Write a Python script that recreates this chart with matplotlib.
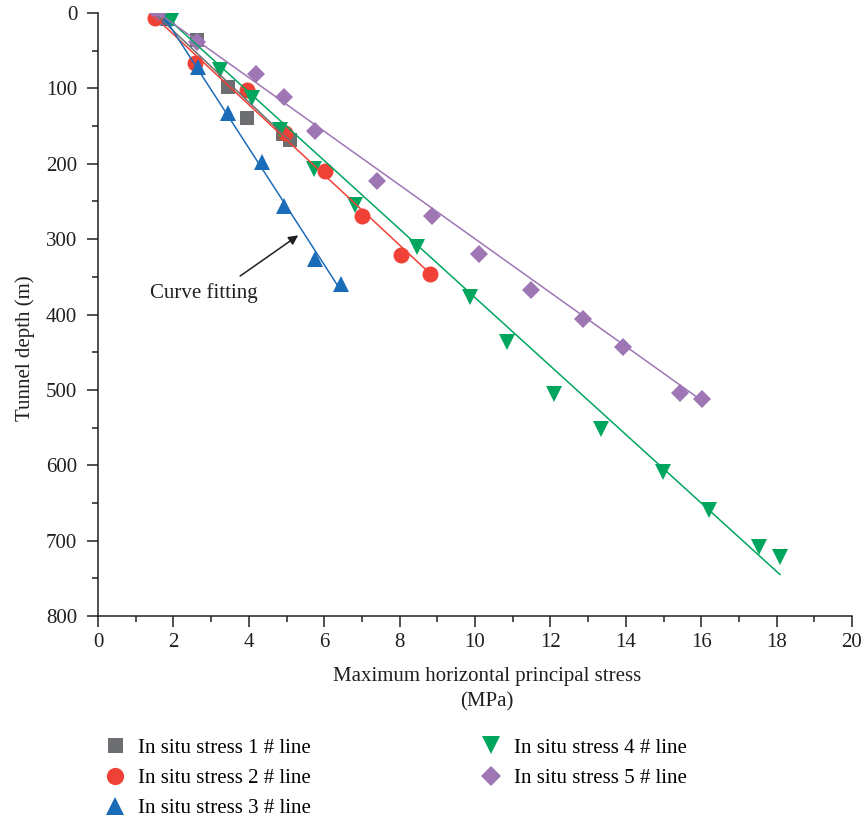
import matplotlib
matplotlib.use("Agg")
import matplotlib.pyplot as plt
from matplotlib.ticker import MultipleLocator

plt.rcParams['font.family'] = ['Liberation Serif', 'DejaVu Serif']

# ---- data ----
s1_x = [1.7, 2.63, 3.44, 3.96, 4.9, 5.09]
s1_y = [5, 35.5, 97.6, 139.6, 160, 168.5]
s2_x = [1.52, 2.57, 3.94, 4.96, 6.02, 6.99, 8.05, 8.81]
s2_y = [6.5, 66.5, 102, 159.6, 209, 269.5, 321, 345.7]
s3_x = [1.85, 2.66, 3.44, 4.34, 4.94, 5.76, 6.45]
s3_y = [6, 71, 133, 198, 256, 327, 360]
s4_x = [1.95, 3.24, 4.08, 4.83, 5.74, 6.82, 8.45, 9.87, 10.86, 12.1, 13.33, 14.98, 16.22, 17.52, 18.09]
s4_y = [8, 76, 113, 155, 207, 255, 310, 377, 437, 505, 552, 609, 660, 709, 722]
s5_x = [1.6, 2.63, 4.2, 4.93, 5.76, 7.39, 8.85, 10.11, 11.49, 12.87, 13.93, 15.44, 16.01]
s5_y = [0, 38, 81, 111.5, 157, 222.6, 269, 320, 367, 405.6, 443, 504.5, 512]

# fitted lines (end points)
fit1_x = [1.6, 5.1]
fit1_y = [5, 170]
fit2_x = [1.5, 8.81]
fit2_y = [5, 345.7]
fit3_x = [1.75, 6.44]
fit3_y = [5, 368]
fit4_x = [1.8, 18.09]
fit4_y = [5, 745]
fit5_x = [1.6, 16.01]
fit5_y = [0, 514]

labels = ["In situ stress 1 # line", "In situ stress 2 # line", "In situ stress 3 # line",
          "In situ stress 4 # line", "In situ stress 5 # line"]
colors = ["#6d6e71", "#ef4136", "#1b6cb8", "#00a65d", "#9e76b4"]

FS = 15
INK = '#231f20'

fig = plt.figure(figsize=(8.64, 8.18), dpi=100)
ax = fig.add_axes([98/864, 1-616/818, (852-98)/864, (616-13)/818])

series = [(s1_x, s1_y, fit1_x, fit1_y, 's', 10),
          (s2_x, s2_y, fit2_x, fit2_y, 'o', 11.5),
          (s3_x, s3_y, fit3_x, fit3_y, '^', 12),
          (s4_x, s4_y, fit4_x, fit4_y, 'v', 12),
          (s5_x, s5_y, fit5_x, fit5_y, 'D', 9)]

handles = []
for i, (sx, sy, fx, fy, m, ms) in enumerate(series):
    h, = ax.plot(sx, sy, linestyle='none', marker=m, markersize=ms,
                 color=colors[i], markeredgewidth=0, label=labels[i], zorder=3)
    ax.plot(fx, fy, color=colors[i], lw=1.1, zorder=4)
    handles.append(h)

ax.annotate("", xy=(5.31, 295), xytext=(3.77, 349),
            arrowprops=dict(arrowstyle='-|>', color=INK, lw=1.1,
                            shrinkA=0, shrinkB=0, mutation_scale=14))
ax.text(1.38, 371, "Curve fitting", fontsize=FS, va='center', ha='left', color=INK)

ax.set_xlim(0, 20)
ax.set_ylim(800, 0)
ax.xaxis.set_major_locator(MultipleLocator(2))
ax.xaxis.set_minor_locator(MultipleLocator(1))
ax.yaxis.set_major_locator(MultipleLocator(100))
ax.yaxis.set_minor_locator(MultipleLocator(50))

ax.spines['top'].set_visible(False)
ax.spines['right'].set_visible(False)
for sp in ['left', 'bottom']:
    ax.spines[sp].set_linewidth(1.1)
    ax.spines[sp].set_color(INK)

ax.tick_params(which='major', direction='out', length=8, width=1.1, color=INK,
               labelsize=FS, labelcolor=INK)
ax.tick_params(which='minor', direction='out', length=4, width=1.1, color=INK)
ax.tick_params(axis='x', pad=4.5)
ax.tick_params(axis='y', pad=7)

ax.set_xlabel("Maximum horizontal principal stress\n(MPa)", fontsize=FS, color=INK,
              linespacing=1.45)
ax.xaxis.set_label_coords(0.516, -0.084)
ax.xaxis.label.set_va('top')
ax.set_ylabel("Tunnel depth (m)", fontsize=FS, color=INK)
ax.yaxis.set_label_coords(-0.083, 0.444)

fig.legend(handles=handles, labels=labels, ncol=2, loc='upper left',
           bbox_to_anchor=(104.6/864, 1-738/818), frameon=False, fontsize=FS,
           borderpad=0, borderaxespad=0,
           handletextpad=0.6, columnspacing=8.15, labelspacing=0.52,
           handlelength=1.0, markerscale=1.08)

fig.savefig("out.png", dpi=100)
